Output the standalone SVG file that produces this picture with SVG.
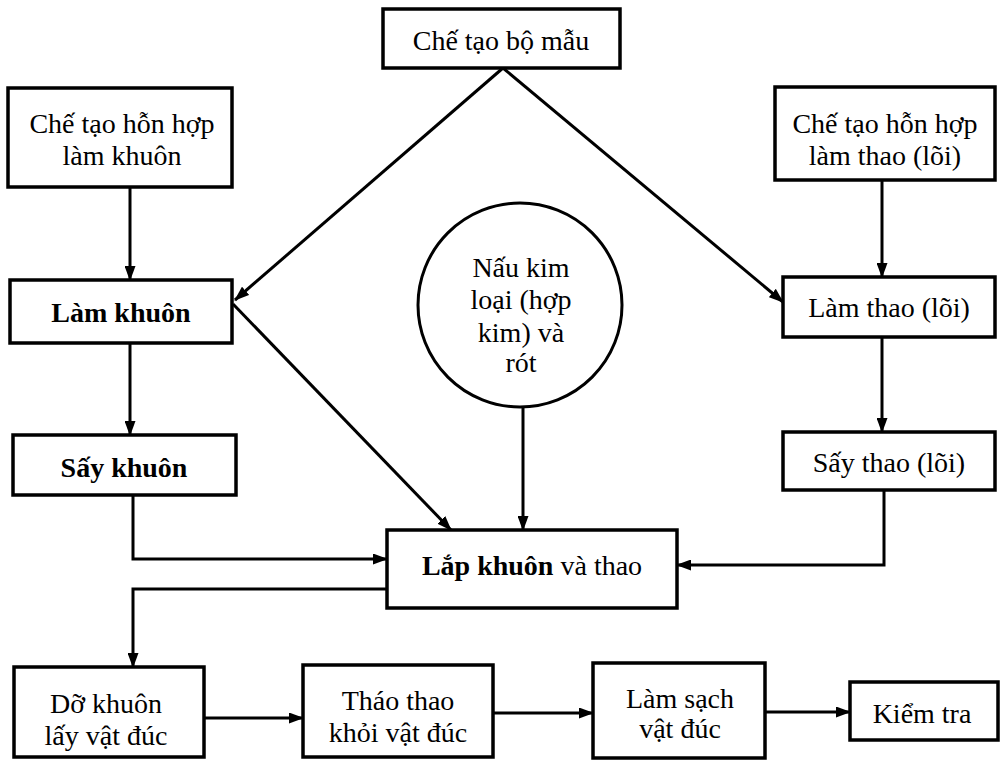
<svg xmlns="http://www.w3.org/2000/svg" width="1002" height="765" viewBox="0 0 1002 765">
<defs>
<marker id="arr" viewBox="0 0 15 11" refX="14" refY="5.5" markerWidth="15" markerHeight="11" markerUnits="userSpaceOnUse" orient="auto">
<path d="M0,0 L15,5.5 L0,11 Z" fill="#000"/>
</marker>
<style>
.box{fill:#fff;stroke:#000;stroke-width:3.5}
.t{font-family:"Liberation Serif","Times New Roman",serif;font-size:28px;fill:#000;text-anchor:middle;dominant-baseline:central}
.b{font-weight:bold}
.c{fill:none;stroke:#000;stroke-width:3;marker-end:url(#arr)}
</style>
</defs>
<rect width="1002" height="765" fill="#fff"/>
<g id="connectors">
<line class="c" x1="130" y1="187" x2="130" y2="280"/>
<line class="c" x1="882" y1="180" x2="882" y2="277"/>
<line class="c" x1="503" y1="68" x2="235" y2="300"/>
<line class="c" x1="503" y1="68" x2="783" y2="302"/>
<line class="c" x1="130" y1="343" x2="130" y2="435"/>
<line class="c" x1="882" y1="337" x2="882" y2="432"/>
<line class="c" x1="233" y1="304" x2="451" y2="530"/>
<line class="c" x1="523" y1="407" x2="523" y2="530"/>
<polyline class="c" points="133,495 133,559 387,559"/>
<polyline class="c" points="884,490 884,565 677,565"/>
<polyline class="c" points="387,589 133,589 133,667"/>
<line class="c" x1="204" y1="718" x2="303" y2="718"/>
<line class="c" x1="493" y1="713" x2="593" y2="713"/>
<line class="c" x1="765" y1="712" x2="850" y2="712"/>
</g>
<g id="n-mau">
<rect class="box" x="383" y="9" width="237" height="59"/>
<text class="t" x="501" y="40">Chế tạo bộ mẫu</text>
</g>
<g id="n-honhop-khuon">
<rect class="box" x="8" y="88" width="224" height="99"/>
<text class="t" x="122" y="123">Chế tạo hỗn hợp</text>
<text class="t" x="122" y="155">làm khuôn</text>
</g>
<g id="n-honhop-thao">
<rect class="box" x="775" y="87" width="220" height="93"/>
<text class="t" x="885" y="123">Chế tạo hỗn hợp</text>
<text class="t" x="885" y="155">làm thao (lõi)</text>
</g>
<g id="n-lamkhuon">
<rect class="box" x="10" y="280" width="222" height="63"/>
<text class="t b" x="121" y="312">Làm khuôn</text>
</g>
<g id="n-lamthao">
<rect class="box" x="783" y="277" width="212" height="60"/>
<text class="t" x="889" y="307">Làm thao (lõi)</text>
</g>
<g id="n-nau">
<circle cx="520" cy="305" r="102" fill="#fff" stroke="#000" stroke-width="3"/>
<text class="t" x="521" y="267">Nấu kim</text>
<text class="t" x="521" y="299">loại (hợp</text>
<text class="t" x="521" y="332">kim) và</text>
<text class="t" x="521" y="362">rót</text>
</g>
<g id="n-saykhuon">
<rect class="box" x="13" y="435" width="223" height="60"/>
<text class="t b" x="124" y="467">Sấy khuôn</text>
</g>
<g id="n-saythao">
<rect class="box" x="783" y="432" width="212" height="58"/>
<text class="t" x="889" y="462">Sấy thao (lõi)</text>
</g>
<g id="n-lap">
<rect class="box" x="387" y="530" width="290" height="78"/>
<text class="t" x="532" y="565"><tspan class="b">Lắp khuôn</tspan> và thao</text>
</g>
<g id="n-do">
<rect class="box" x="14" y="667" width="190" height="90"/>
<text class="t" x="106" y="703">Dỡ khuôn</text>
<text class="t" x="106" y="735">lấy vật đúc</text>
</g>
<g id="n-thao">
<rect class="box" x="303" y="665" width="190" height="92"/>
<text class="t" x="398" y="700">Tháo thao</text>
<text class="t" x="398" y="732">khỏi vật đúc</text>
</g>
<g id="n-lamsach">
<rect class="box" x="593" y="663" width="172" height="95"/>
<text class="t" x="680" y="698">Làm sạch</text>
<text class="t" x="680" y="728">vật đúc</text>
</g>
<g id="n-kiemtra">
<rect class="box" x="850" y="682" width="148" height="58"/>
<text class="t" x="922" y="713">Kiểm tra</text>
</g>
</svg>
